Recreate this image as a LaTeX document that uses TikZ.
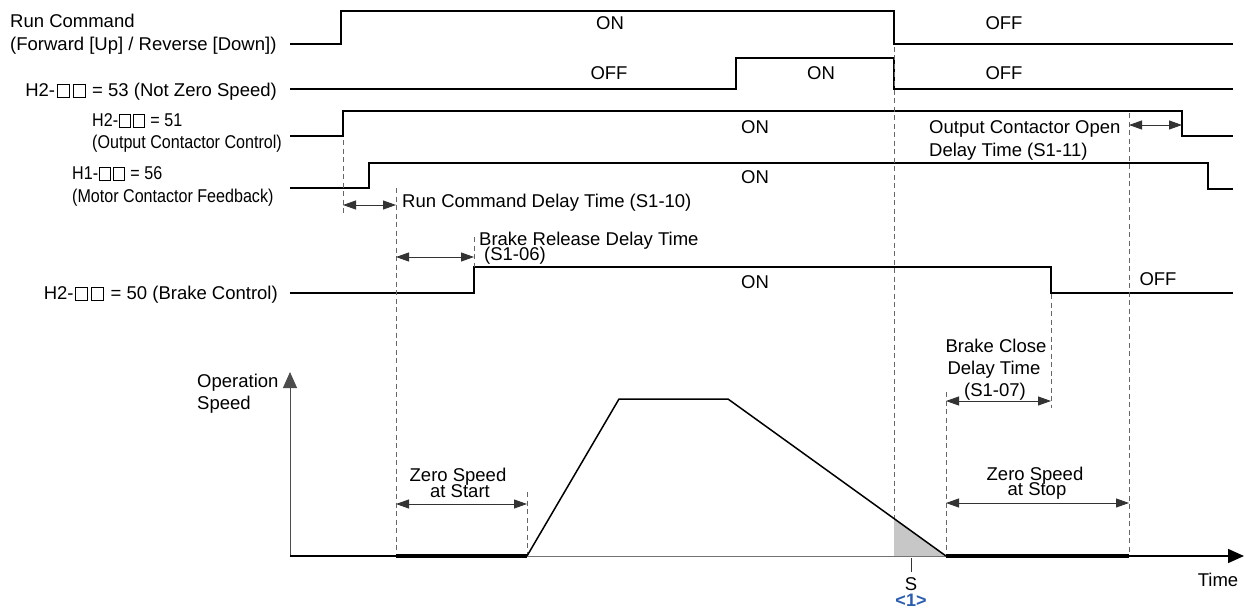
\documentclass[tikz,border=0pt]{standalone}
\usepackage{fontspec}
\setmainfont{Liberation Sans}
\usepackage{graphicx}
\usetikzlibrary{arrows.meta}
\newcommand\bx{\kern0.08em{\fboxsep=0pt\fboxrule=0.6pt\fbox{\rule{0pt}{0.64em}\rule{0.64em}{0pt}}}\kern0.08em}
\newcommand\cnd[1]{\scalebox{0.87}[1]{#1}}
\definecolor{refblue}{HTML}{2A5DB0}
\tikzset{
  sig/.style={line width=1.5pt, draw=black},
  dsh/.style={draw=black!60, line width=0.9pt, dash pattern=on 5pt off 3.5pt},
  dimarrow/.style={draw=black!80, line width=0.9pt, {Triangle[length=13pt,width=9pt]}-{Triangle[length=13pt,width=9pt]}},
  lbl/.style={font=\fontsize{18.5}{21}\selectfont, inner sep=0pt, text height=13.2pt, text depth=0pt},
  axisarrow/.style={-{Triangle[length=16pt,width=14pt]}},
}
\begin{document}
\begin{tikzpicture}[x=1pt,y=-1pt]
\useasboundingbox (0,0) rectangle (1245,610);

% ---------- signal traces ----------
\coordinate (r0) at (290,44);
\coordinate (r1) at (1233,44);
\draw[sig] (r0) -- (341,44) -- (341,11) -- (894,11) -- (894,44) -- (r1);
\coordinate (n0) at (290,89);
\coordinate (n1) at (1233,89);
\draw[sig] (n0) -- (736,89) -- (736,58) -- (894,58) -- (894,89) -- (n1);
\coordinate (o0) at (290,136);
\coordinate (o1) at (1233,136);
\draw[sig] (o0) -- (343,136) -- (343,111) -- (1182,111) -- (1182,136) -- (o1);
\coordinate (m0) at (290,188);
\coordinate (m1) at (1233,189);
\draw[sig] (m0) -- (369,188) -- (369,163) -- (1208,163) -- (1208,189) -- (m1);
\coordinate (b0) at (290,293);
\coordinate (b1) at (1233,293);
\draw[sig] (b0) -- (474,293) -- (474,267) -- (1051,267) -- (1051,293) -- (b1);

% ---------- dashed guide lines ----------
\coordinate (d1a) at (343,140);  \coordinate (d1b) at (343,216);
\coordinate (d2a) at (396,188);  \coordinate (d2b) at (396,556);
\coordinate (d3a) at (474,237);  \coordinate (d3b) at (474,267);
\coordinate (d4a) at (527,492);  \coordinate (d4b) at (527,556);
\coordinate (d5a) at (894,47);   \coordinate (d5b) at (894,556);
\coordinate (d6a) at (946,392);  \coordinate (d6b) at (946,556);
\coordinate (d7a) at (1051,294); \coordinate (d7b) at (1051,408);
\coordinate (d8a) at (1129,113); \coordinate (d8b) at (1129,556);
\foreach \i in {1,...,8} \draw[dsh] (d\i a) -- (d\i b);

% ---------- speed graph ----------
\fill[black!22] (894,556) -- (894,518) -- (946,556) -- cycle;
\coordinate (org) at (290,556);
\coordinate (ytop) at (290,372);
\coordinate (zs1) at (396,556);
\coordinate (zs2) at (527,556);
\coordinate (pk1) at (619,399);
\coordinate (pk2) at (728,399);
\coordinate (zp1) at (946,556);
\coordinate (zp2) at (1129,556);
\coordinate (tend) at (1244,556);
\draw[black!70, line width=1pt, axisarrow] (org) -- (ytop);
\draw[black!55, line width=1pt] (zs2) -- (zp1);
\draw[black, line width=1.5pt] (org) -- (zs1);
\draw[black, line width=4pt] (zs1) -- (zs2);
\draw[black, line width=4pt] (zp1) -- (zp2);
\draw[black, line width=1.5pt, axisarrow] (zp2) -- (tend);
\draw[black, line width=1.5pt, line join=miter] (zs2) -- (pk1) -- (pk2) -- (zp1);
\coordinate (st1) at (911,558);
\coordinate (st2) at (911,572);
\draw[black!80, line width=0.9pt] (st1) -- (st2);

% ---------- dimension arrows ----------
\coordinate (a1a) at (343,205);  \coordinate (a1b) at (396,205);
\coordinate (a2a) at (396,257);  \coordinate (a2b) at (474,257);
\coordinate (a3a) at (946,401);  \coordinate (a3b) at (1051,401);
\coordinate (a4a) at (396,504);  \coordinate (a4b) at (527,504);
\coordinate (a5a) at (946,503);  \coordinate (a5b) at (1129,503);
\coordinate (a6a) at (1129,125); \coordinate (a6b) at (1182,125);
\foreach \i in {1,...,6} \draw[dimarrow] (a\i a) -- (a\i b);

% ---------- left labels ----------
\node[lbl, anchor=west] (lrun1) at (10,21) {Run Command};
\node[lbl, anchor=west] (lrun2) at (10,44) {(Forward [Up] / Reverse [Down])};
\node[lbl, anchor=east] (lnzs) at (277,90) {H2-\bx\bx{} = 53 (Not Zero Speed)};
\node[lbl, anchor=west] (locc1) at (92,120) {\cnd{H2-\bx\bx{} = 51}};
\node[lbl, anchor=west] (locc2) at (92,142) {\cnd{(Output Contactor Control)}};
\node[lbl, anchor=west] (lmcf1) at (72,173) {\cnd{H1-\bx\bx{} = 56}};
\node[lbl, anchor=west] (lmcf2) at (72,196) {\cnd{(Motor Contactor Feedback)}};
\node[lbl, anchor=east] (lbrk) at (278,293) {H2-\bx\bx{} = 50 (Brake Control)};

% ---------- state labels ----------
\node[lbl] (s1) at (610,23) {ON};
\node[lbl] (s2) at (1004,23) {OFF};
\node[lbl] (s3) at (609,73) {OFF};
\node[lbl] (s4) at (821,73) {ON};
\node[lbl] (s5) at (1004,73) {OFF};
\node[lbl] (s6) at (755,127) {ON};
\node[lbl] (s7) at (755,177) {ON};
\node[lbl] (s8) at (755,282) {ON};
\node[lbl] (s9) at (1158,279) {OFF};

% ---------- timing labels ----------
\node[lbl, anchor=west] (t1) at (929,127) {Output Contactor Open};
\node[lbl, anchor=west] (t2) at (929,150) {Delay Time (S1-11)};
\node[lbl, anchor=west] (t3) at (402,201) {Run Command Delay Time (S1-10)};
\node[lbl, anchor=west] (t4) at (479,239) {Brake Release Delay Time};
\node[lbl, anchor=west] (t5) at (484,254) {(S1-06)};
\node[lbl] (t6) at (996,346) {Brake Close};
\node[lbl] (t7) at (994,368) {Delay Time};
\node[lbl] (t8) at (995,390) {(S1-07)};
\node[lbl] (t9) at (458,475) {Zero Speed};
\node[lbl] (t10) at (460,491) {at Start};
\node[lbl] (t11) at (1035,474) {Zero Speed};
\node[lbl] (t12) at (1037,489) {at Stop};
\node[lbl, anchor=west] (t13) at (197,381) {Operation};
\node[lbl, anchor=west] (t14) at (197,403) {Speed};
\node[lbl] (t15) at (1218,580) {Time};
\node[lbl] (t16) at (911,584) {S};
\node[lbl, font=\fontsize{18}{20}\selectfont\bfseries, text=refblue] (t17) at (911,600) {<1>};
\end{tikzpicture}
\end{document}
